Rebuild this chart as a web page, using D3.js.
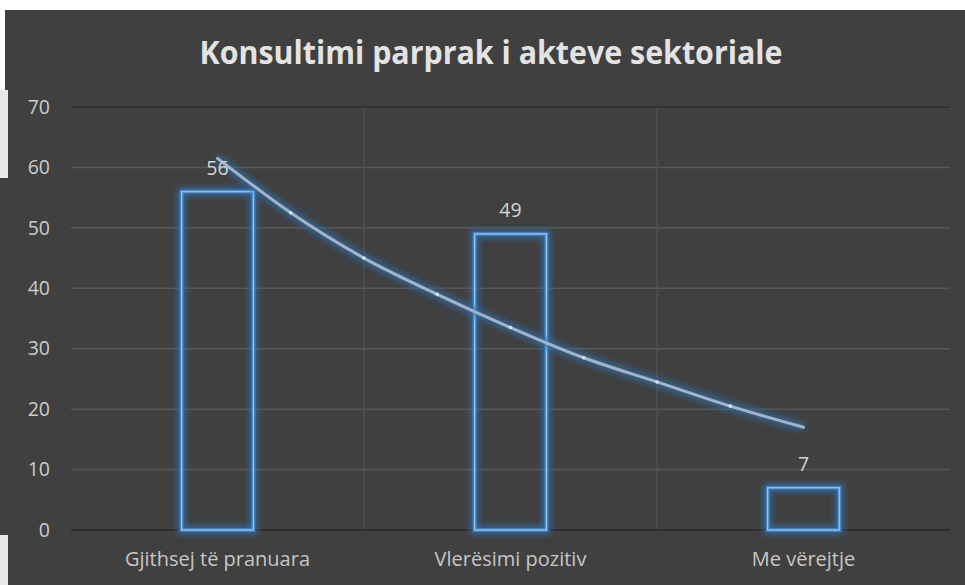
<!DOCTYPE html>
<html>
<head>
<meta charset="utf-8">
<script src="https://cdn.jsdelivr.net/npm/d3@7"></script>
<style>
  body { margin: 0; background: #ffffff; }
  svg { display: block; }
</style>
</head>
<body>
<div id="chart"></div>
<script>
const categories = ['Gjithsej të pranuara', 'Vlerësimi pozitiv', 'Me vërejtje'];
const values = [56, 49, 7];
const yTicks = [0, 10, 20, 30, 40, 50, 60, 70];
// trendline, at quarter steps between categories
const trendPos = [1, 1.25, 1.5, 1.75, 2, 2.25, 2.5, 2.75, 3];
const trendVals = [61.5, 52.5, 45, 39, 33.5, 28.5, 24.5, 20.5, 17];

const width = 965;
const height = 585;
const margin = { top: 107, right: 15, bottom: 55, left: 71 };

const svg = d3.select('#chart')
    .append('svg')
    .attr('width', width)
    .attr('height', height);

// background (with the scanned white edges)
svg.append('rect').attr('x', 5).attr('y', 10).attr('width', width - 5).attr('height', height - 10).attr('fill', '#404040');
svg.append('rect').attr('x', 0).attr('y', 178).attr('width', 6).attr('height', 357).attr('fill', '#404040');
svg.append('rect').attr('x', 0).attr('y', 90).attr('width', 8).attr('height', 88).attr('fill', '#e9e9e9');
svg.append('rect').attr('x', 0).attr('y', 535).attr('width', 8).attr('height', 50).attr('fill', '#e9e9e9');

const defs = svg.append('defs');
const glow = defs.append('filter').attr('id', 'glow')
    .attr('x', '-50%').attr('y', '-50%').attr('width', '200%').attr('height', '200%');
glow.append('feGaussianBlur').attr('stdDeviation', 3);

const x = d3.scaleBand()
    .domain(categories)
    .range([margin.left, width - margin.right]);

const y = d3.scaleLinear()
    .domain([0, 70])
    .range([height - margin.bottom, margin.top]);

// horizontal gridlines
svg.append('g')
    .selectAll('line')
    .data(yTicks.filter((d) => d > 0 && d < 70))
    .join('line')
    .attr('x1', margin.left).attr('x2', width - margin.right)
    .attr('y1', (d) => y(d)).attr('y2', (d) => y(d))
    .attr('stroke', '#575757')
    .attr('stroke-width', 1.5);

// vertical gridlines at band boundaries
svg.append('g')
    .selectAll('line')
    .data(categories.slice(1))
    .join('line')
    .attr('x1', (d) => x(d)).attr('x2', (d) => x(d))
    .attr('y1', y(70)).attr('y2', y(0))
    .attr('stroke', '#4f4f4f')
    .attr('stroke-width', 1.5);

// top border line
svg.append('line')
    .attr('x1', margin.left).attr('x2', width - margin.right)
    .attr('y1', y(70)).attr('y2', y(70))
    .attr('stroke', '#262626').attr('stroke-width', 1.2);

// baseline
svg.append('line')
    .attr('x1', margin.left).attr('x2', width - margin.right)
    .attr('y1', y(0)).attr('y2', y(0))
    .attr('stroke', '#1a1a1a').attr('stroke-width', 1.2);

// y axis labels
const yAxis = d3.axisLeft(y).tickValues(yTicks).tickSize(0).tickPadding(21);
const yg = svg.append('g')
    .attr('transform', `translate(${margin.left}, 0)`)
    .call(yAxis);
yg.select('.domain').remove();
yg.selectAll('text')
    .attr('fill', '#cccccc')
    .style('font-family', '"Open Sans", sans-serif')
    .style('font-size', '19.5px');

// x axis labels
const xAxis = d3.axisBottom(x).tickSize(0).tickPadding(22);
const xg = svg.append('g')
    .attr('transform', `translate(0, ${y(0)})`)
    .call(xAxis);
xg.select('.domain').remove();
xg.selectAll('text')
    .attr('fill', '#c6c6c6')
    .style('font-family', '"Open Sans", sans-serif')
    .style('font-size', '20px');

// bars: outline only with blue glow
const barW = x.bandwidth() * 0.245;
const bars = svg.append('g');
bars.selectAll('rect.glow')
    .data(values)
    .join('rect')
    .attr('class', 'glow')
    .attr('x', (d, i) => x(categories[i]) + x.bandwidth() / 2 - barW / 2)
    .attr('y', (d) => y(d))
    .attr('width', barW)
    .attr('height', (d) => y(0) - y(d))
    .attr('fill', 'none')
    .attr('stroke', '#2e6fb0')
    .attr('stroke-width', 8)
    .attr('stroke-opacity', 0.8)
    .attr('filter', 'url(#glow)');
bars.selectAll('rect.mid')
    .data(values)
    .join('rect')
    .attr('class', 'mid')
    .attr('x', (d, i) => x(categories[i]) + x.bandwidth() / 2 - barW / 2)
    .attr('y', (d) => y(d))
    .attr('width', barW)
    .attr('height', (d) => y(0) - y(d))
    .attr('fill', 'none')
    .attr('stroke', '#3f7fc0')
    .attr('stroke-width', 4);
bars.selectAll('rect.edge')
    .data(values)
    .join('rect')
    .attr('class', 'edge')
    .attr('x', (d, i) => x(categories[i]) + x.bandwidth() / 2 - barW / 2)
    .attr('y', (d) => y(d))
    .attr('width', barW)
    .attr('height', (d) => y(0) - y(d))
    .attr('fill', 'none')
    .attr('stroke', '#8fc0ee')
    .attr('stroke-width', 1.5);

// trendline
const xPos = (p) => x(categories[0]) + x.bandwidth() / 2 + (p - 1) * x.step();
const trend = trendPos.map((p, i) => [p, trendVals[i]]);
const line = d3.line()
    .x((d) => xPos(d[0]))
    .y((d) => y(d[1]))
    .curve(d3.curveMonotoneX);

svg.append('path')
    .datum(trend)
    .attr('d', line)
    .attr('fill', 'none')
    .attr('stroke', '#2e6fb0')
    .attr('stroke-width', 9)
    .attr('stroke-opacity', 0.7)
    .attr('filter', 'url(#glow)');
svg.append('path')
    .datum(trend)
    .attr('d', line)
    .attr('fill', 'none')
    .attr('stroke', '#a3b3c8')
    .attr('stroke-width', 3)
    .attr('stroke-linecap', 'round');

// small bright dots along the trendline
svg.append('g')
    .selectAll('circle')
    .data(trend.slice(1, -1))
    .join('circle')
    .attr('cx', (d) => xPos(d[0]))
    .attr('cy', (d) => y(d[1]))
    .attr('r', 1.8)
    .attr('fill', '#d6e4f2');

// value labels
svg.append('g')
    .selectAll('text')
    .data(values)
    .join('text')
    .attr('x', (d, i) => x(categories[i]) + x.bandwidth() / 2)
    .attr('y', (d) => y(d) - 17)
    .attr('text-anchor', 'middle')
    .attr('fill', '#d4d4d4')
    .style('font-family', '"Open Sans", sans-serif')
    .style('font-size', '19.5px')
    .text((d) => d);

// title
svg.append('text')
    .attr('x', 491)
    .attr('y', 64)
    .attr('text-anchor', 'middle')
    .attr('textLength', 583)
    .attr('lengthAdjust', 'spacingAndGlyphs')
    .attr('fill', '#e3e3e3')
    .style('font-family', '"Open Sans", sans-serif')
    .style('font-weight', 'bold')
    .style('font-size', '32px')
    .text('Konsultimi parprak i akteve sektoriale');
</script>
</body>
</html>
